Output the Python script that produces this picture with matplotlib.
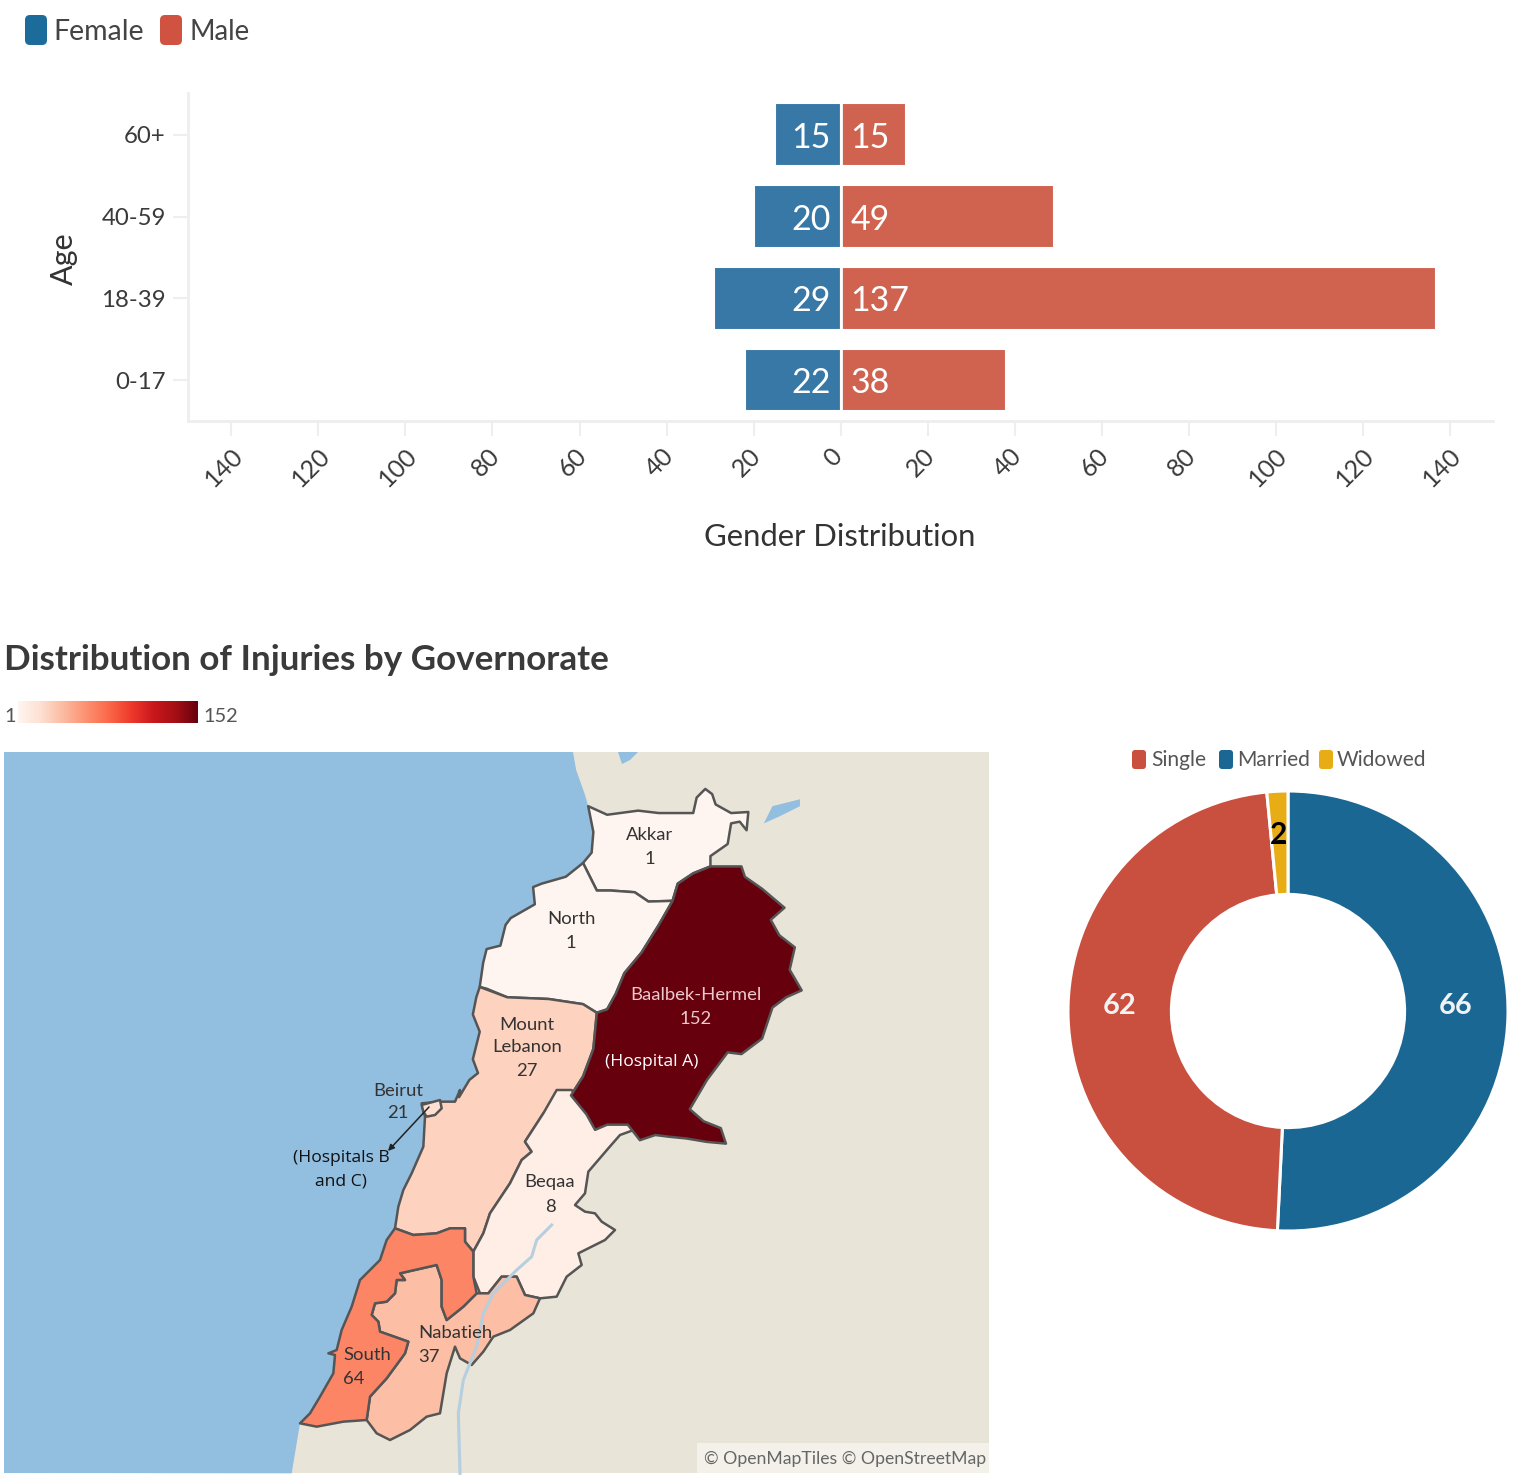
import matplotlib
matplotlib.use("Agg")
import matplotlib.pyplot as plt
import numpy as np
from matplotlib.patches import Polygon, FancyBboxPatch, Rectangle
from matplotlib.colors import Normalize
from matplotlib.transforms import ScaledTranslation

plt.rcParams['font.family'] = ['Lato', 'DejaVu Sans']
W, H = 1524, 1476
px = 0.72  # points per pixel at dpi 100

# ---------- data ----------
age_groups = ['0-17', '18-39', '40-59', '60+']
female = [22, 29, 20, 15]
male = [38, 137, 49, 15]
ticks = [-140, -120, -100, -80, -60, -40, -20, 0, 20, 40, 60, 80, 100, 120, 140]

status_labels = ['Married', 'Single', 'Widowed']
status_values = [66, 62, 2]
status_colors = ['#1b6793', '#c94f3e', '#e8ac14']

gov_values = {'Akkar': 1, 'North': 1, 'Baalbek-Hermel': 152, 'Mount Lebanon': 27,
              'Beirut': 21, 'Beqaa': 8, 'South': 64, 'Nabatieh': 37}

def z1(pts):
    return [(280 + x / 2.904, 770 + y / 2.904) for x, y in pts]
def z2(pts):
    return [(280 + x / 3, 1080 + y / 3) for x, y in pts]

akkar = z1([(895,105),(950,130),(1040,118),(1100,125),(1200,125),(1210,80),(1235,55),(1255,70),(1265,100),(1310,125),(1360,122),(1355,175),(1335,150),(1310,155),(1300,215),(1250,250),(1250,280),(1200,300),(1155,330),(1140,380),(1070,382),(1030,355),(960,350),(920,350),(905,320),(880,270),(905,240),(910,180)])
north = z1([(880,270),(905,320),(920,350),(960,350),(1030,355),(1070,382),(1140,380),(1100,450),(1050,530),(1000,590),(975,650),(950,695),(920,705),(880,680),(780,665),(660,660),(600,635),(580,630),(590,560),(600,520),(640,510),(655,450),(670,430),(740,390),(735,340),(760,330),(830,310)])
baalbek = z1([(1140,380),(1155,330),(1200,300),(1250,280),(1340,280),(1350,310),(1400,345),(1465,400),(1425,435),(1450,480),(1495,515),(1480,580),(1515,640),(1470,660),(1430,690),(1400,780),(1340,825),(1300,820),(1240,900),(1190,985),(1230,1020),(1280,1040),(1295,1085),(1240,1080),(1180,1070),(1130,1065),(1090,1060),(1045,1075),(1010,1030),(950,1030),(915,1045),(890,1000),(845,945),(880,890),(910,810),(920,705),(950,695),(975,650),(1000,590),(1050,530),(1100,450)])
mount = z1([(580,630),(660,660),(780,665),(880,680),(920,705),(910,810),(880,890),(845,945),(820,945)]) + \
        z2([(790,100),(735,185),(755,215),(725,240),(690,310),(630,400),(610,460),(580,515),(555,485),(555,445),(510,445),(470,460),(400,465),(345,445),(355,380),(370,330),(395,280),(430,200),(435,110),(425,70),(480,65),(525,65),(540,30)]) + \
        z1([(520,950),(550,900),(575,880),(560,840),(580,760),(560,710),(570,660)])
beirut = z2([(425,75),(480,60),(485,85),(465,105),(440,110),(430,95)])
beqaa = z2([(830,30),(875,30),(900,60),(945,110),(1000,100),(1030,115),(1075,145),(1020,165),(985,205),(925,275),(915,340),(885,375),(915,395),(945,400),(965,425),(1005,450),(975,480),(895,520),(905,555),(860,590),(830,650),(780,655),(735,645),(710,590),(665,590),(625,640),(600,640),(580,590),(580,515),(610,460),(630,400),(690,310),(725,240),(755,215),(735,185),(790,100)])
south = z2([(345,445),(400,465),(470,460),(510,445),(555,445),(555,485),(580,515),(580,590),(590,640),(550,680),(500,720),(485,680),(485,600),(470,555),(360,580),(375,600),(350,600),(345,640),(320,665),(285,670),(275,705),(295,725),(300,755),(385,785),(375,820),(320,895),(270,950),(260,1020),(190,1025),(110,1040),(60,1030),(90,1000),(120,950),(160,880),(165,825),(145,820),(170,810),(185,750),(215,680),(240,600),(300,540),(320,480)])
nabatieh = z2([(360,580),(470,555),(485,600),(485,680),(500,720),(550,680),(590,640),(625,640),(665,590),(710,590),(735,645),(780,655),(760,700),(690,750),(640,770),(610,815),(575,855),(540,835),(525,800),(500,880),(480,1000),(440,1010),(390,1050),(330,1080),(290,1060),(260,1020),(270,950),(320,895),(375,820),(385,785),(300,755),(295,725),(275,705),(285,670),(320,665),(345,640),(350,600),(375,600)])
sea = [(4,752),(573,752)] + z1([(860,0),(885,70),(895,105),(910,180),(905,240),(880,270),(830,310),(760,330),(735,340),(740,390),(670,430),(655,450),(640,510),(600,520),(590,560),(580,630),(570,660),(560,710),(580,760),(560,840),(575,880),(550,900),(520,950),(515,985)]) + \
      z2([(480,65),(425,70),(435,110),(430,200),(395,280),(370,330),(355,380),(345,445),(320,480),(300,540),(240,600),(215,680),(185,750),(170,810),(145,820),(165,825),(160,880),(120,950),(90,1000),(60,1030),(50,1090),(35,1180)]) + [(4,1473)]
lake = z1([(1405,155),(1430,105),(1510,85),(1510,105),(1450,135)])
pond = [(618,752),(638,752),(630,760),(622,764)]
river = z2([(815,435),(770,480),(755,530),(710,570),(640,640),(610,700),(590,800),(550,900),(535,1000),(540,1180)])

regions = {'Akkar': akkar, 'North': north, 'Mount Lebanon': mount, 'Beqaa': beqaa,
           'Nabatieh': nabatieh, 'South': south, 'Baalbek-Hermel': baalbek, 'Beirut': beirut}

fig = plt.figure(figsize=(W / 100, H / 100), dpi=100, facecolor='white')

def box(l, t, r, b):
    return [l / W, 1 - b / H, (r - l) / W, (b - t) / H]

# ---------- overlay in reference pixel coordinates ----------
ov = fig.add_axes([0, 0, 1, 1])
ov.set_xlim(0, W); ov.set_ylim(H, 0); ov.axis('off')

def swatch(x, y, w, h, c, r=4):
    ov.add_patch(FancyBboxPatch((x + r, y + r), w - 2 * r, h - 2 * r,
                                boxstyle=f'round,pad={r},rounding_size={r}',
                                fc=c, ec='none', zorder=5))

def T(x, y, s, **kw):
    kw.setdefault('va', 'center')
    return ov.text(x, y + 1.5, s, **kw)

swatch(25, 15, 22, 30, '#1b6b9b', 5)
T(53, 31, 'Female', fontsize=28.5 * px, color='#444444')
swatch(160, 15, 22, 30, '#cf5340', 5)
T(189, 31, 'Male', fontsize=27.5 * px, color='#444444')

T(4, 658, 'Distribution of Injuries by Governorate', fontsize=35 * px,
  fontweight='bold', color='#3a3a3a')

# Map
ov.add_patch(Rectangle((4, 752), 985, 721, fc='#e8e4d8', ec='none', zorder=1))
ov.add_patch(Polygon(sea, fc='#92bee0', ec='none', zorder=1.5))
ov.add_patch(Polygon(lake, fc='#92bee0', ec='none', zorder=1.5))
ov.add_patch(Polygon(pond, fc='#92bee0', ec='none', zorder=1.5))
norm = Normalize(1, 152)
cmap = plt.get_cmap('Reds')
for name, poly in regions.items():
    ov.add_patch(Polygon(poly, fc=cmap(norm(gov_values[name])), ec='#555555', lw=1.8,
                         joinstyle='round', zorder=2))
rx, ry = zip(*river)
ov.plot(rx, ry, color='#b5cfdf', lw=2.2, zorder=2.5)

# Colour scale
ov.imshow(np.linspace(1, 152, 256).reshape(1, -1), cmap=cmap, norm=norm, aspect='auto',
          extent=(18, 198, 723, 701), zorder=3)
ov.set_xlim(0, W); ov.set_ylim(H, 0)
T(4, 715, '1', fontsize=20 * px, color='#555555')
T(203, 715, '152', fontsize=20 * px, color='#555555')

map_labels = [('Akkar', 650, 834), ('1', 650, 858), ('North', 571, 918), ('1', 571, 942),
              ('Mount', 527, 1023), ('Lebanon', 527, 1046), ('27', 527, 1070),
              ('Beirut', 398, 1089), ('21', 398, 1112), ('Beqaa', 550, 1181), ('8', 550, 1205),
              ('Nabatieh', 455, 1332), ('37', 429, 1356), ('South', 367, 1353), ('64', 354, 1377)]
for t, x, y in map_labels:
    T(x, y, t, fontsize=18.5 * px, color='#333333', ha='center', zorder=4)
for t, x, y in [('Baalbek-Hermel', 696, 994), ('152', 696, 1017)]:
    T(x, y, t, fontsize=18.5 * px, color='#ecc9cc', ha='center', zorder=4)
T(652, 1060, '(Hospital A)', family='Open Sans', fontsize=17.5 * px, color='white',
  ha='center', zorder=4)
T(341, 1156, '(Hospitals B', family='Open Sans', fontsize=17.5 * px, color='#111111',
  ha='center', zorder=4)
T(341, 1180, 'and C)', family='Open Sans', fontsize=17.5 * px, color='#111111',
  ha='center', zorder=4)
ov.annotate('', xy=(388, 1151), xytext=(429, 1107), zorder=4,
            arrowprops=dict(arrowstyle='-|>', color='#222222', lw=1.1, mutation_scale=9,
                            shrinkA=0, shrinkB=0))

ov.add_patch(Rectangle((697, 1443), 292, 30, fc='#f3f1ea', ec='none', zorder=3))
T(704, 1457, '© OpenMapTiles © OpenStreetMap', fontsize=17.6 * px, color='#666666', zorder=4)

# Donut legend
for x, c, t, tx in [(1132, '#c94f3e', 'Single', 1151), (1219, '#1b6793', 'Married', 1237),
                    (1319, '#e8ac14', 'Widowed', 1337)]:
    swatch(x, 750, 14, 19, c, 3)
    T(tx, 759, t, fontsize=21 * px, color='#555555')

# ---------- population pyramid ----------
ax = fig.add_axes(box(188, 93, 1493, 421))
ax.patch.set_alpha(0)
y = np.arange(len(age_groups))
ax.barh(y, -np.array(female), height=0.765, color='#3878a6', edgecolor='white', linewidth=1.5)
ax.barh(y, male, height=0.765, color='#d06250', edgecolor='white', linewidth=1.5)
ax.axvline(0, ymin=0.03, ymax=0.97, color='white', lw=2, zorder=3)
ax.set_xlim(-150, 150)
ax.set_ylim(-0.5, 3.51)
ax.set_xticks(ticks)
ax.set_xticklabels([str(abs(t)) for t in ticks], rotation=45, ha='center', rotation_mode='default',
                   fontsize=25 * px, color='#3a3a3a')
ax.set_yticks(y)
ax.set_yticklabels(age_groups, fontsize=24 * px, color='#3a3a3a')
ax.tick_params(axis='both', color='#eeeeee', width=1.5, length=10.5)
ax.tick_params(axis='x', pad=6)
ax.tick_params(axis='y', pad=5.5)
shift = ScaledTranslation(-7 / 100, 0, fig.dpi_scale_trans)
for tick in ax.xaxis.get_major_ticks():
    tick.label1.set_transform(tick.label1.get_transform() + shift)
for s in ('top', 'right'):
    ax.spines[s].set_visible(False)
for s in ('left', 'bottom'):
    ax.spines[s].set_color('#eeeeee')
    ax.spines[s].set_linewidth(2)
for i, (f, m) in enumerate(zip(female, male)):
    ax.annotate(str(f), (0, i), xytext=(-7, 0), textcoords='offset points', ha='right',
                va='center_baseline', color='white', fontsize=34 * px, zorder=4)
    ax.annotate(str(m), (0, i), xytext=(7, 0), textcoords='offset points', ha='left',
                va='center_baseline', color='white', fontsize=34 * px, zorder=4)
T(64, 257, 'Age', rotation=90, fontsize=30.5 * px, color='#333333', ha='center')
T(840, 536, 'Gender Distribution', fontsize=31 * px, color='#333333', ha='center')

# ---------- donut ----------
ad = fig.add_axes(box(1068, 791, 1508, 1231))
ad.pie(status_values, colors=status_colors, startangle=90, counterclock=False, radius=1,
       wedgeprops=dict(width=0.47, edgecolor='white', linewidth=2.2, joinstyle='round'))
ad.set_xlim(-1, 1); ad.set_ylim(-1, 1)
for t, x, y_, c in [('66', 1456, 1005, '#f2f2f2'), ('62', 1120, 1005, '#f2f2f2'), ('2', 1279, 833, 'black')]:
    T(x, y_, t, fontsize=(30 if t == '2' else 29) * px, fontweight='bold', color=c,
      ha='center', zorder=10)
ov.set_zorder(3)

fig.savefig('out.png', dpi=100)
